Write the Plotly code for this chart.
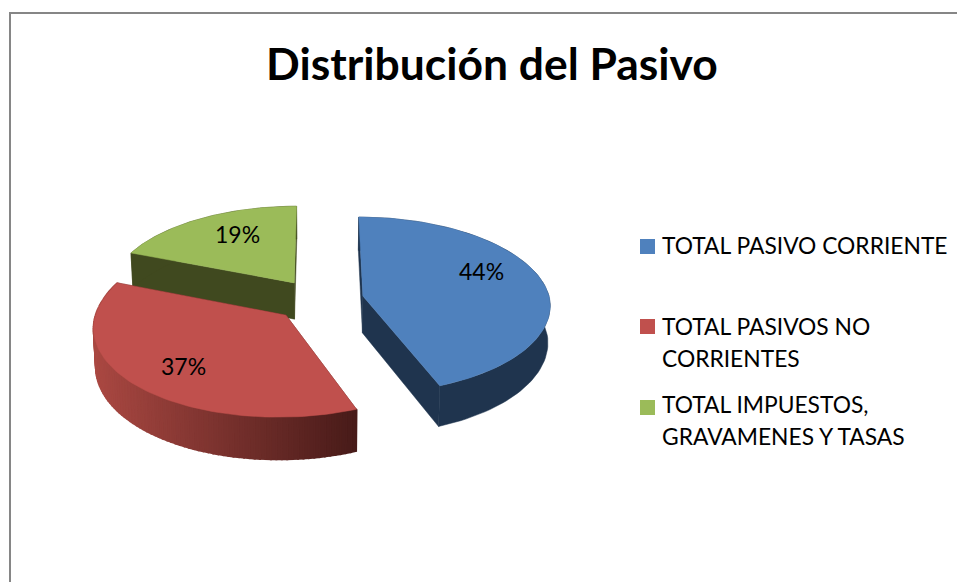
import math
import plotly.graph_objects as go

# ---- data ----
categories = ["TOTAL PASIVO CORRIENTE", "TOTAL PASIVOS NO CORRIENTES", "TOTAL IMPUESTOS, GRAVAMENES Y TASAS"]
values = [44, 37, 19]
legend_lines = [["TOTAL PASIVO CORRIENTE"], ["TOTAL PASIVOS NO", "CORRIENTES"], ["TOTAL IMPUESTOS,", "GRAVAMENES Y TASAS"]]
title_text = "Distribución del Pasivo"

# ---- style ----
top_colors = ["#4F81BD", "#C0504D", "#9BBB59"]
wall_colors = ["#1F344E", "#5A2220", "#40491F"]
red_wall_left, red_wall_right = (170, 72, 66), (72, 27, 25)
label_pos = [(481, 271), (183, 366), (237, 234)]
legend_y = [[245], [326, 358], [404, 436]]
swatch_y = [246.5, 326.5, 407.5]

# ---- 3D pie projection ----
CX, CY, A, B = 319, 300, 187, 88
PERSP, PULL, DEPTH, SHRINK, SKEW = 0.104, 0.24, 37, 0.01, 4


def project(X, Y, z=0):
    f = 1 / (1 + PERSP * Y)
    sx = CX + A * X * f * (1 - SHRINK * z) + SKEW * min(Y, 0)
    sy = CY - B * Y * f + DEPTH * f * z
    return sx, sy


def slice_geom(start, end):
    mid = (start + end) / 2
    ox, oy = PULL * math.sin(mid), PULL * math.cos(mid)
    n = 90
    angs = [start + (end - start) * i / n for i in range(n + 1)]
    rim = [(ox + math.sin(t), oy + math.cos(t)) for t in angs]
    return (ox, oy), rim


def poly(pts, color, width=0.5, **kw):
    xs = [p[0] for p in pts] + [pts[0][0]]
    ys = [p[1] for p in pts] + [pts[0][1]]
    kw.setdefault("hoverinfo", "skip")
    return go.Scatter(x=xs, y=ys, mode="lines", fill="toself", fillcolor=color,
                      line=dict(color=color, width=width), showlegend=False, **kw)


total = sum(values)
angles = []
acc = 0
for v in values:
    angles.append((2 * math.pi * acc / total, 2 * math.pi * (acc + v) / total))
    acc += v

fig = go.Figure()
# painter's order: green (back), blue, red (front)
for i in [2, 0, 1]:
    (ox, oy), rim = slice_geom(*angles[i])
    wall = wall_colors[i]
    # cut faces
    for edge in (rim[0], rim[-1]):
        fig.add_trace(poly([project(ox, oy), project(*edge), project(*edge, 1), project(ox, oy, 1)], wall))
    # outer wall
    if i == 1:
        xs_front = [project(*p)[0] for p in rim]
        xmin, xmax = min(xs_front), max(xs_front)
        for j in range(len(rim) - 1):
            p, q = rim[j], rim[j + 1]
            t = (project(*p)[0] - xmin) / (xmax - xmin)
            c = tuple(round(l + (r - l) * t) for l, r in zip(red_wall_left, red_wall_right))
            fig.add_trace(poly([project(*p), project(*q), project(*q, 1), project(*p, 1)], f"rgb{c}", width=2))
    else:
        outer = [project(*p) for p in rim] + [project(*p, 1) for p in reversed(rim)]
        fig.add_trace(poly(outer, wall))
    # top face
    top = [project(ox, oy)] + [project(*p) for p in rim]
    fig.add_trace(poly(top, top_colors[i], name=categories[i], hoverinfo="name"))

# legend swatches
fig.add_trace(go.Scatter(x=[647.5] * 3, y=swatch_y, mode="markers",
                         marker=dict(symbol="square", size=15, color=top_colors, line=dict(width=0)),
                         hoverinfo="skip", showlegend=False))

FONT = "Lato, Carlito, Calibri, sans-serif"
annotations = []
for v, (lx, ly) in zip(values, label_pos):
    annotations.append(dict(x=lx, y=ly, text=f"{v}%", showarrow=False, xanchor="center", yanchor="middle",
                            font=dict(family=FONT, size=23, color="#000000")))
for lines, ys in zip(legend_lines, legend_y):
    for line, ly in zip(lines, ys):
        annotations.append(dict(x=660, y=ly, text=line, showarrow=False, xanchor="left", yanchor="middle",
                                font=dict(family=FONT, size=22.8, color="#000000")))
annotations.append(dict(x=491.5, y=62, text=f"<b>{title_text}</b>", showarrow=False, xanchor="center",
                        yanchor="middle", font=dict(family=FONT, size=44.4, color="#000000")))

fig.update_layout(
    width=957, height=582, margin=dict(l=0, r=0, t=0, b=0),
    paper_bgcolor="white", plot_bgcolor="white", showlegend=False,
    xaxis=dict(range=[0, 957], visible=False, fixedrange=True),
    yaxis=dict(range=[582, 0], visible=False, fixedrange=True),
    annotations=annotations,
    shapes=[
        dict(type="line", x0=10, x1=957, y0=13, y1=13, line=dict(color="#868686", width=2)),
        dict(type="line", x0=10, x1=10, y0=12, y1=582, line=dict(color="#868686", width=2)),
    ],
)

fig.write_html("out.html", config={"displayModeBar": False},
               post_script="document.body.style.margin='0';document.body.style.overflow='hidden';")
